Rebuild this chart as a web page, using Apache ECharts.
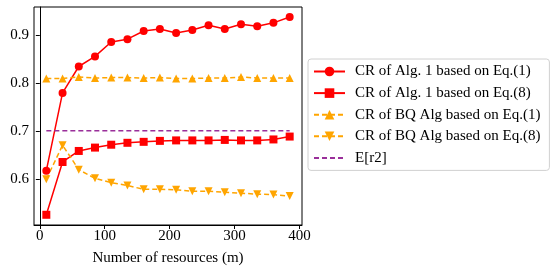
<!DOCTYPE html>
<html><head><meta charset="utf-8">
<script src="https://cdn.jsdelivr.net/npm/echarts@6/dist/echarts.min.js"></script>
<style>html,body{margin:0;padding:0;background:#fff}#c{width:553px;height:271px}</style>
</head><body><div id="c"></div>
<script>
const xs = [10,35,60,85,110,135,160,185,210,235,260,285,310,335,360,385];
const alg1Eq1 = [0.617,0.779,0.834,0.855,0.885,0.891,0.908,0.912,0.904,0.910,0.920,0.912,0.922,0.918,0.925,0.937];
const alg1Eq8 = [0.525,0.635,0.658,0.665,0.671,0.675,0.677,0.679,0.680,0.680,0.680,0.681,0.680,0.680,0.682,0.688];
const bqEq1 = [0.809,0.809,0.812,0.810,0.811,0.811,0.810,0.811,0.809,0.809,0.810,0.810,0.812,0.810,0.810,0.810];
const bqEq8 = [0.599,0.670,0.619,0.601,0.592,0.586,0.578,0.578,0.577,0.574,0.574,0.572,0.570,0.568,0.567,0.564];
const er2 = [0.7,0.7];
const er2X = [10,385];
const xTicks = [0,100,200,300,400];
const yTicks = [0.6,0.7,0.8,0.9];
const names = ['CR of Alg. 1 based on Eq.(1)','CR of Alg. 1 based on Eq.(8)','CR of BQ Alg based on Eq.(1)','CR of BQ Alg based on Eq.(8)','E[r2]'];

const font = 'Liberation Serif';
const pair = (a,b)=>a.map((v,i)=>[v,b[i]]);
const clear = 'rgba(0,0,0,0)';
const chart = echarts.init(document.getElementById('c'));
chart.setOption({
  animation:false,
  textStyle:{fontFamily:font},
  grid:{left:34,right:251,top:7,bottom:45,show:true,borderColor:'#000',borderWidth:1},
  xAxis:{type:'value',min:-9,max:404,
    name:'Number of resources (m)',nameLocation:'middle',nameGap:26,
    nameTextStyle:{fontFamily:font,fontSize:15,color:'#000'},
    axisLine:{show:true,lineStyle:{color:'#000'}},
    axisTick:{show:true,inside:false,length:4,customValues:xTicks,lineStyle:{color:'#000'}},
    axisLabel:{customValues:xTicks,fontFamily:font,fontSize:15,color:'#000',margin:4},
    splitLine:{show:false}},
  yAxis:{type:'value',min:0.5037,max:0.958,
    axisLine:{show:true,lineStyle:{color:'#000'}},
    axisTick:{show:true,inside:false,length:4,customValues:yTicks,lineStyle:{color:'#000'}},
    axisLabel:{customValues:yTicks,fontFamily:font,fontSize:15,color:'#000',margin:5,formatter:v=>v.toFixed(1)},
    splitLine:{show:false}},
  legend:{orient:'vertical',left:308,top:59,padding:[5,9,5,5],
    backgroundColor:'#fff',borderColor:'#d0d0d0',borderWidth:1,borderRadius:3,
    itemWidth:31,itemHeight:12,itemGap:6.6,
    textStyle:{fontFamily:font,fontSize:15,color:'#000',padding:[0,0,0,5]},
    data:[names[0],names[1],names[2],names[3],
      {name:names[4],itemStyle:{color:clear,borderColor:clear,borderWidth:0}}]},
  series:[
    {name:names[0],type:'line',data:pair(xs,alg1Eq1),symbol:'circle',symbolSize:8,
      lineStyle:{color:'#ff0000',width:1.5},itemStyle:{color:'#ff0000'}},
    {name:names[1],type:'line',data:pair(xs,alg1Eq8),symbol:'rect',symbolSize:8,
      lineStyle:{color:'#ff0000',width:1.5},itemStyle:{color:'#ff0000'}},
    {name:names[2],type:'line',data:pair(xs,bqEq1),symbol:'triangle',symbolSize:8,
      lineStyle:{color:'#ffa500',width:1.5,type:[5,3]},itemStyle:{color:'#ffa500'}},
    {name:names[3],type:'line',data:pair(xs,bqEq8),symbol:'triangle',symbolRotate:180,symbolSize:8,
      lineStyle:{color:'#ffa500',width:1.5,type:[5,3]},itemStyle:{color:'#ffa500'}},
    {name:names[4],type:'line',data:pair(er2X,er2),symbol:'none',
      lineStyle:{color:'#9a2f9a',width:1.5,type:[5,3]},itemStyle:{color:'#9a2f9a'}}
  ]
});
</script></body></html>
